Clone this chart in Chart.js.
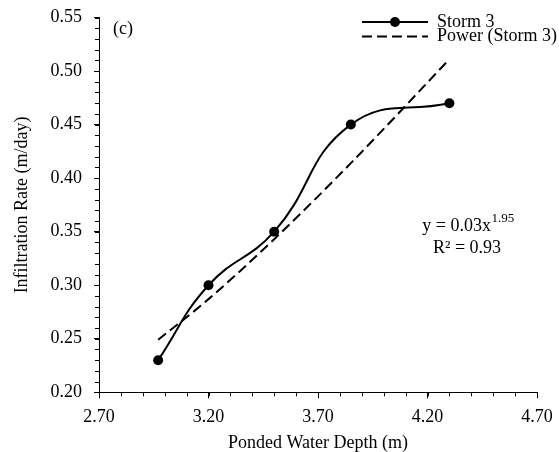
<!DOCTYPE html>
<html>
<head>
<meta charset="utf-8">
<script src="https://cdn.jsdelivr.net/npm/chart.js@4/dist/chart.umd.min.js"></script>
<style>
html,body{margin:0;padding:0;background:#fff;}
#wrap{width:559px;height:452px;position:relative;}
</style>
</head>
<body>
<div id="wrap"><canvas id="c"></canvas></div>
<script>
// Data
const depths = [2.97, 3.20, 3.50, 3.85, 4.30];
const rates = [0.23, 0.30, 0.35, 0.45, 0.47];
const trendDepths = [2.97, 3.20, 3.50, 3.85, 4.30];
const trendRates = [0.249, 0.287, 0.343, 0.414, 0.511];
const xTickValues = [2.70, 3.20, 3.70, 4.20, 4.70];
const yTickValues = [0.20, 0.25, 0.30, 0.35, 0.40, 0.45, 0.50, 0.55];
const seriesNames = ['Storm 3', 'Power (Storm 3)'];
const panelLabel = '(c)';
const equationMain = 'y = 0.03x';
const equationExp = '1.95';
const r2Text = 'R\u00B2 = 0.93';
const xTitle = 'Ponded Water Depth (m)';
const yTitle = 'Infiltration Rate (m/day)';

const FONT = "'Liberation Serif', 'Times New Roman', serif";

const minorTicks = {
  id: 'minorTicks',
  afterDraw(chart) {
    const ctx = chart.ctx;
    const xs = chart.scales.x, ys = chart.scales.y;
    ctx.save();
    ctx.strokeStyle = '#000';
    ctx.lineWidth = 1;
    ctx.beginPath();
    for (let i = 0; i <= 20; i++) {
      const v = xs.min + i * 0.1;
      const px = Math.round(xs.getPixelForValue(v)) + 0.5;
      ctx.moveTo(px, ys.bottom);
      ctx.lineTo(px, ys.bottom + 4);
    }
    for (let i = 0; i <= 35; i++) {
      const v = ys.min + i * 0.01;
      const py = Math.round(ys.getPixelForValue(v)) + 0.5;
      ctx.moveTo(xs.left, py);
      ctx.lineTo(xs.left - 4, py);
    }
    ctx.stroke();
    ctx.restore();
  }
};

const annotations = {
  id: 'annotations',
  afterDraw(chart) {
    const ctx = chart.ctx;
    ctx.save();
    ctx.fillStyle = '#000';
    ctx.textBaseline = 'middle';
    ctx.font = '18px ' + FONT;
    ctx.textAlign = 'left';
    ctx.fillText(panelLabel, 113, 29);

    // equation
    const wMain = ctx.measureText(equationMain).width;
    ctx.font = '13px ' + FONT;
    const wExp = ctx.measureText(equationExp).width;
    const cx = 468;
    const startX = cx - (wMain + wExp) / 2;
    ctx.font = '18px ' + FONT;
    ctx.fillText(equationMain, startX, 226);
    ctx.font = '13px ' + FONT;
    ctx.fillText(equationExp, startX + wMain + 0.5, 219);
    ctx.font = '18px ' + FONT;
    ctx.textAlign = 'center';
    ctx.fillText(r2Text, 467, 248);

    // legend
    const ds = chart.data.datasets;
    const rows = [22, 36.5];
    for (let i = 0; i < ds.length; i++) {
      const y = rows[i];
      ctx.save();
      ctx.strokeStyle = ds[i].borderColor;
      ctx.lineWidth = ds[i].borderWidth;
      ctx.setLineDash(ds[i].borderDash || []);
      ctx.beginPath();
      ctx.moveTo(362, y);
      ctx.lineTo(428, y);
      ctx.stroke();
      ctx.restore();
      if (ds[i].pointRadius > 0) {
        ctx.beginPath();
        ctx.arc(395, y, ds[i].pointRadius, 0, Math.PI * 2);
        ctx.fillStyle = ds[i].pointBackgroundColor;
        ctx.fill();
      }
      ctx.fillStyle = '#000';
      ctx.textAlign = 'left';
      ctx.font = '18px ' + FONT;
      ctx.fillText(ds[i].label, 437, y);
    }
    ctx.restore();
  }
};

new Chart(document.getElementById('c'), {
  type: 'scatter',
  data: {
    datasets: [
      {
        label: seriesNames[0],
        data: depths.map((x, i) => ({x: x, y: rates[i]})),
        showLine: true,
        borderColor: '#000',
        borderWidth: 2,
        pointRadius: 5,
        pointBackgroundColor: '#000',
        pointBorderColor: '#000',
        pointBorderWidth: 0,
        tension: 0.45,
        fill: false
      },
      {
        label: seriesNames[1],
        data: trendDepths.map((x, i) => ({x: x, y: trendRates[i]})),
        showLine: true,
        borderColor: '#000',
        borderWidth: 2,
        borderDash: [10, 5],
        pointRadius: 0,
        cubicInterpolationMode: 'monotone',
        fill: false
      }
    ]
  },
  options: {
    responsive: true,
    maintainAspectRatio: false,
    animation: false,
    layout: { padding: { top: 17.5, right: 22, left: 0, bottom: 0 } },
    plugins: { legend: { display: false }, tooltip: { enabled: false } },
    scales: {
      x: {
        type: 'linear',
        min: 2.70, max: 4.70,
        afterBuildTicks(scale) { scale.ticks = xTickValues.map(v => ({value: v})); },
        afterFit(scale) { scale.height = 59.7; scale.paddingLeft = 0; scale.paddingRight = 0; },
        ticks: {
          color: '#000',
          font: { family: FONT, size: 18 },
          padding: 8,
          maxRotation: 0,
          callback: v => Number(v).toFixed(2)
        },
        grid: { drawOnChartArea: false, drawTicks: true, tickLength: 6, color: '#000', lineWidth: 1 },
        border: { display: true, color: '#000', width: 1 },
        title: { display: true, text: xTitle, color: '#000', font: { family: FONT, size: 18, lineHeight: 1 }, padding: { top: 0, bottom: 0 } }
      },
      y: {
        type: 'linear',
        min: 0.20, max: 0.55,
        afterBuildTicks(scale) { scale.ticks = yTickValues.map(v => ({value: v})); },
        afterFit(scale) { scale.width = 99; scale.paddingTop = 0; scale.paddingBottom = 0; },
        ticks: {
          color: '#000',
          font: { family: FONT, size: 18 },
          padding: 12,
          callback: v => Number(v).toFixed(2)
        },
        grid: { drawOnChartArea: false, drawTicks: true, tickLength: 5, color: '#000', lineWidth: 1 },
        border: { display: true, color: '#000', width: 1 },
        title: { display: true, text: yTitle, color: '#000', font: { family: FONT, size: 18, lineHeight: 1 }, padding: { top: 13, bottom: 0 } }
      }
    }
  },
  plugins: [minorTicks, annotations]
});
</script>
</body>
</html>
